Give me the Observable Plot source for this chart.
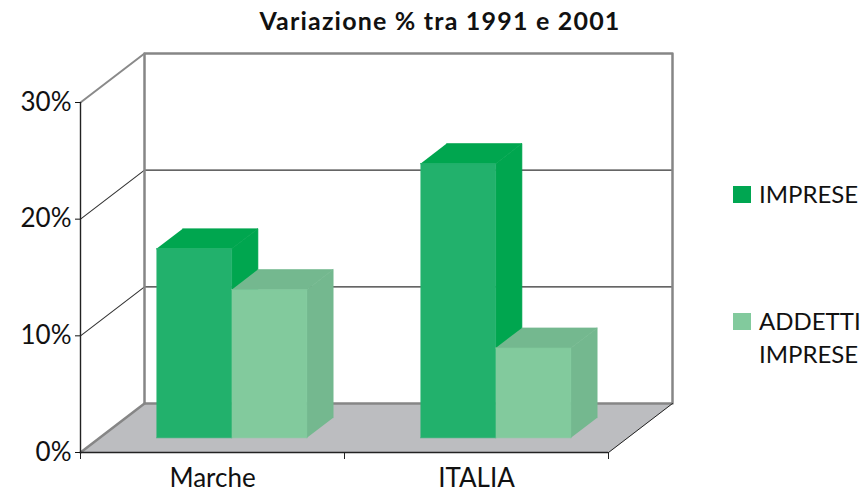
<!DOCTYPE html>
<html><head><meta charset="utf-8">
<script src="https://cdn.jsdelivr.net/npm/d3@7"></script>
<script src="https://cdn.jsdelivr.net/npm/@observablehq/plot@0.6"></script>
<style>
body{margin:0;background:#fff;}
#wrap{position:relative;width:867px;height:494px;font-family:Lato,"Open Sans",sans-serif;color:#111;}
#chart{position:absolute;left:0;top:0;}
#title{position:absolute;left:0;width:880px;top:8px;text-align:center;font-weight:bold;font-size:25px;line-height:25px;letter-spacing:1.2px;white-space:nowrap;}
.lg{position:absolute;font-size:24px;line-height:24px;white-space:nowrap;}
.sw{position:absolute;width:18px;height:17px;}
</style></head><body>
<div id="wrap">
  <div id="chart"></div>
  <div id="title"></div>
  <div id="legend"></div>
</div>
<script>
// ---- data ----
const title = "Variazione % tra 1991 e 2001";
const categories = ["Marche", "ITALIA"];
const seriesNames = ["IMPRESE", "ADDETTI IMPRESE"];
const impreseValues = [16.2, 23.5];
const addettiValues = [12.7, 7.7];
const yTicks = [0, 10, 20, 30];

// ---- styles ----
const frontColors = ["#22b16c", "#82ca9d"];
const shadeColors = ["#00a64f", "#74b88f"];
const legendColors = ["#00a651", "#82ca9d"];

const W = 867, H = 494;
const mL = 80, mR = 259, mT = 102, mB = 42;
const xMax = categories.length, yMax = 30;
// oblique depth offset in pixels, converted to data units
const depthPx = {dx: 64, dy: 49};
const DX = depthPx.dx / (W - mL - mR) * xMax;
const DY = depthPx.dy / (H - mT - mB) * yMax;
const P = (x, v, z) => ({x: x + z * DX, y: v + z * DY});

const values = [impreseValues, addettiValues];
const gap = 0.215, barW = 0.285, z0 = 0.3, z1 = 0.71;

const faces = [];
let fid = 0;
function addFace(pts, fill) {
  const id = fid++;
  for (const p of pts) faces.push({face: id, fill, x: p.x, y: p.y});
}
// floor
const floor = [];
[P(0,0,0), P(xMax,0,0), P(xMax,0,1), P(0,0,1)].forEach(p => floor.push({face: "floor", x: p.x, y: p.y}));

categories.forEach((c, ci) => {
  seriesNames.forEach((s, si) => {
    const v = values[si][ci];
    const x0 = ci + gap + si * barW, x1 = x0 + barW;
    addFace([P(x1,0,z0), P(x1,v,z0), P(x1,v,z1), P(x1,0,z1)], shadeColors[si]);
    addFace([P(x0,v,z0), P(x1,v,z0), P(x1,v,z1), P(x0,v,z1)], shadeColors[si]);
    addFace([P(x0,0,z0), P(x1,0,z0), P(x1,v,z0), P(x0,v,z0)], frontColors[si]);
  });
});

const grid = [];
yTicks.filter(t => t > 0 && t < yMax).forEach(t => {
  [P(0,t,0), P(0,t,1), P(xMax,t,1)].forEach(p => grid.push({g: t, x: p.x, y: p.y}));
});
const backBorder = [P(0,0,1), P(0,yMax,1), P(xMax,yMax,1), P(xMax,0,1), P(0,0,1)];
const leftTop = [P(0,yMax,0), P(0,yMax,1)];
const floorLeft = [P(0,0,0), P(0,0,1)];
const floorRight = [P(xMax,0,0), P(xMax,0,1)];

const chart = Plot.plot({
  width: W, height: H,
  marginLeft: mL, marginRight: mR, marginTop: mT, marginBottom: mB,
  x: {domain: [0, xMax], label: null},
  y: {domain: [0, yMax], label: null},
  style: {fontFamily: "Lato, 'Open Sans', sans-serif", color: "#111", background: "white"},
  marks: [
    Plot.line(floor, {x: "x", y: "y", z: "face", fill: "#bcbdc0", stroke: "#bcbdc0", strokeWidth: 0.5}),
    Plot.line(grid, {x: "x", y: "y", z: "g", stroke: "#333", strokeWidth: 1.1}),
    Plot.line(backBorder, {x: "x", y: "y", stroke: "#868686", strokeWidth: 2.5}),
    Plot.line(leftTop, {x: "x", y: "y", stroke: "#8a8a8a", strokeWidth: 2}),
    Plot.line(floorLeft, {x: "x", y: "y", stroke: "#868686", strokeWidth: 2.5}),
    Plot.line(floorRight, {x: "x", y: "y", stroke: "#222", strokeWidth: 1}),
    Plot.line(faces, {x: "x", y: "y", z: "face", fill: "fill", stroke: "fill", strokeWidth: 0.6}),
    Plot.ruleX([0], {y1: 0, y2: yMax, stroke: "#222", strokeWidth: 1.4}),
    Plot.ruleY([0], {x1: 0, x2: xMax, stroke: "#222", strokeWidth: 1.4}),
    Plot.axisY({ticks: yTicks, tickFormat: d => d + "%", tickSize: 5, tickPadding: 4, fontSize: 26, color: "#111", label: null}),
    Plot.axisX({ticks: d3.range(0, xMax + 1), tickSize: 7, tickFormat: () => "", color: "#222", label: null}),
    Plot.axisX({ticks: categories.map((c, i) => i + 0.5), tickSize: 0, tickPadding: 16, tickFormat: d => categories[Math.floor(d)], fontSize: 26, color: "#111", label: null})
  ]
});
document.getElementById("chart").appendChild(chart);
document.getElementById("title").textContent = title;

const legend = document.getElementById("legend");
const lgPos = [{y: 186}, {y: 313}];
seriesNames.forEach((s, i) => {
  const sw = document.createElement("div");
  sw.className = "sw";
  sw.style.left = "733px"; sw.style.top = lgPos[i].y + "px";
  sw.style.background = legendColors[i];
  legend.appendChild(sw);
  const words = s === "ADDETTI IMPRESE" ? ["ADDETTI", "IMPRESE"] : [s];
  words.forEach((w, j) => {
    const t = document.createElement("div");
    t.className = "lg";
    t.textContent = w;
    t.style.left = "759px";
    t.style.top = (lgPos[i].y - 4 + j * 33) + "px";
    legend.appendChild(t);
  });
});
</script>
</body></html>
